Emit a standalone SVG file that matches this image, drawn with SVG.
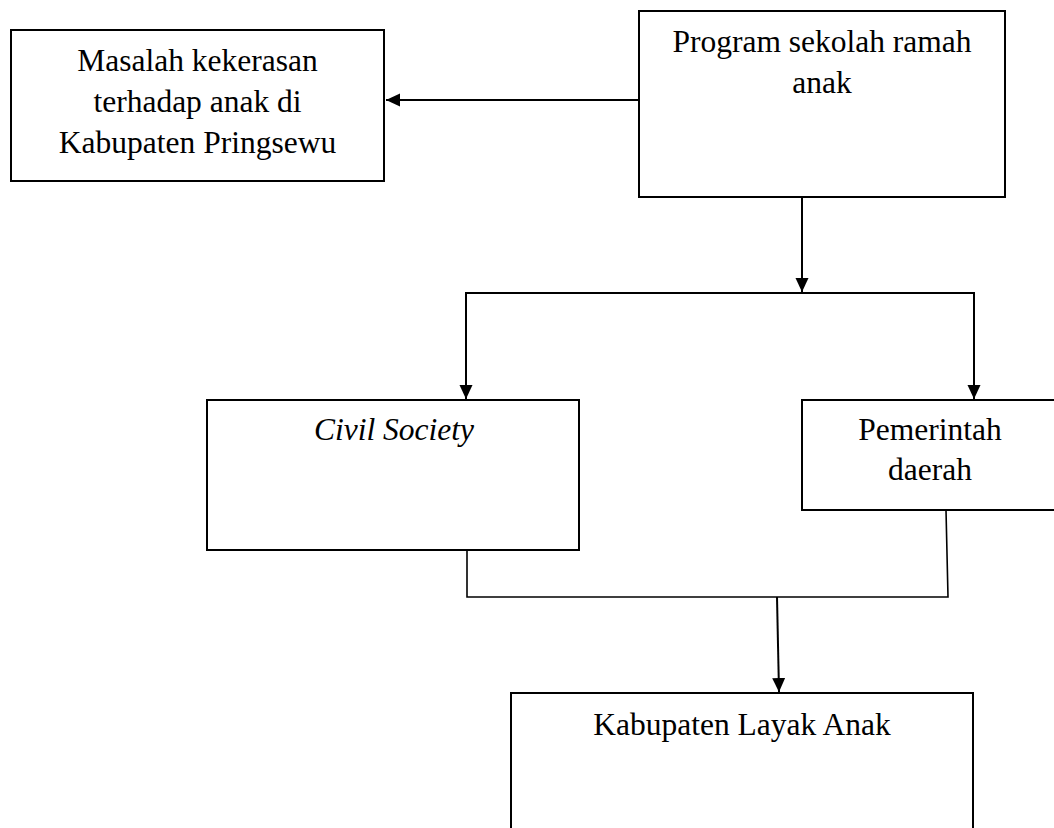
<svg xmlns="http://www.w3.org/2000/svg" width="1054" height="828" viewBox="0 0 1054 828">
<style>
.box{fill:#fff;stroke:#000;stroke-width:2}
.t{font-family:"Liberation Serif","Times New Roman",serif;font-size:31.5px;fill:#000;text-anchor:middle}
.i{font-style:italic}
.c{fill:none;stroke:#000;stroke-width:2}
.thin{fill:none;stroke:#000;stroke-width:1.6}
</style>
<defs>
<marker id="arr" markerUnits="userSpaceOnUse" markerWidth="15" markerHeight="14" refX="14" refY="6.5" orient="auto">
<path d="M0,0 L14,6.5 L0,13 z" fill="#000"/>
</marker>
</defs>
<rect width="1054" height="828" fill="#fff"/>
<g id="connectors">
<line class="c" x1="639" y1="100" x2="386" y2="100" marker-end="url(#arr)"/>
<line class="c" x1="802" y1="197" x2="802" y2="292" marker-end="url(#arr)"/>
<polyline class="c" points="466,399 466,293 974,293 974,399"/>
<line class="c" x1="466" y1="300" x2="466" y2="399" marker-end="url(#arr)"/>
<line class="c" x1="974" y1="300" x2="974" y2="399" marker-end="url(#arr)"/>
<polyline class="thin" points="467,550 467,597 948,597 946,510"/>
<line class="c" x1="777" y1="597" x2="779" y2="692" marker-end="url(#arr)"/>
</g>
<g id="masalah">
<rect class="box" x="11" y="30" width="373" height="151"/>
<text class="t" x="197.5" y="71">Masalah kekerasan</text>
<text class="t" x="197.5" y="112">terhadap anak di</text>
<text class="t" x="197.5" y="153">Kabupaten Pringsewu</text>
</g>
<g id="program">
<rect class="box" x="639" y="11" width="366" height="186"/>
<text class="t" x="822" y="52">Program sekolah ramah</text>
<text class="t" x="822" y="93">anak</text>
</g>
<g id="civil">
<rect class="box" x="207" y="400" width="372" height="150"/>
<text class="t i" x="394" y="440">Civil Society</text>
</g>
<g id="pemerintah">
<rect class="box" x="802" y="400" width="290" height="110"/>
<text class="t" x="930" y="440">Pemerintah</text>
<text class="t" x="930" y="480">daerah</text>
</g>
<g id="kabupaten">
<rect class="box" x="511" y="693" width="462" height="160"/>
<text class="t" x="742" y="735">Kabupaten Layak Anak</text>
</g>
</svg>
